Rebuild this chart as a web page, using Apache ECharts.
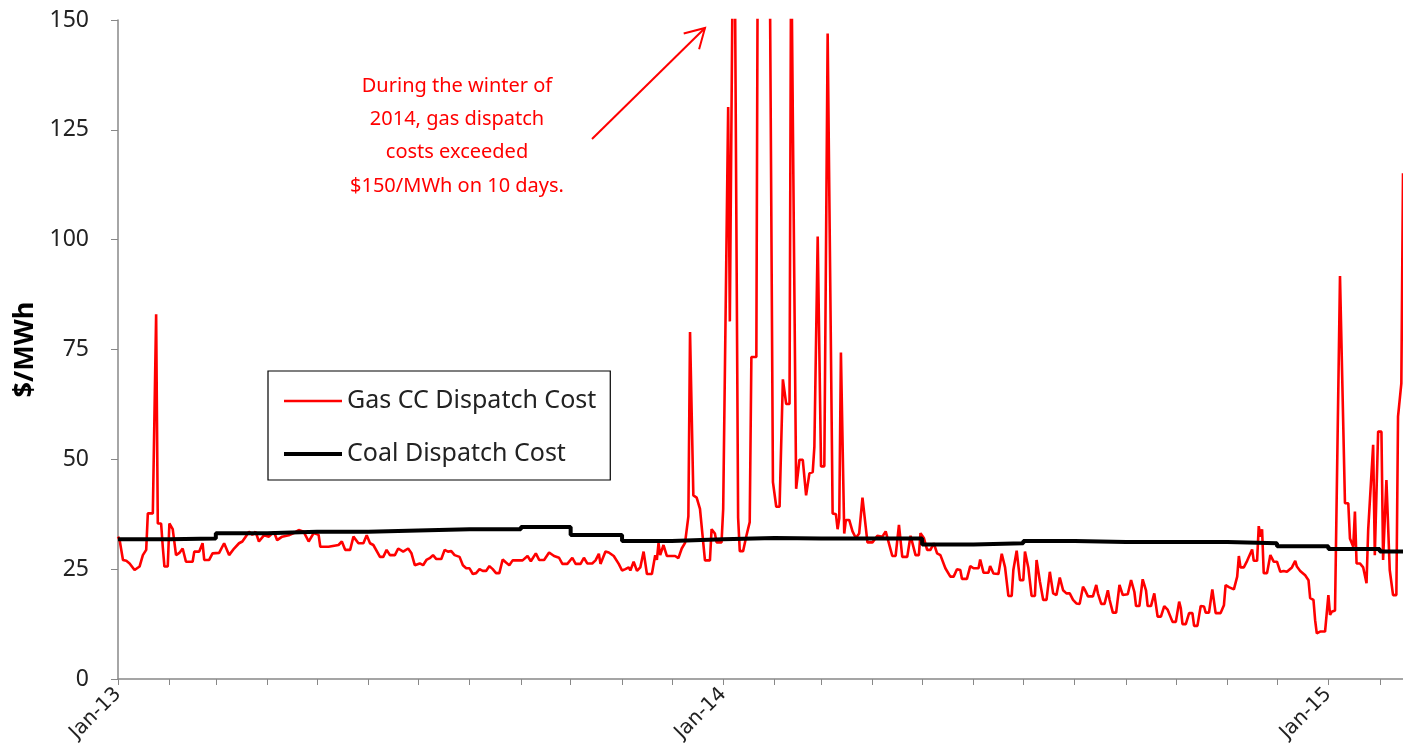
<!DOCTYPE html>
<html>
<head>
<meta charset="utf-8">
<script src="https://cdn.jsdelivr.net/npm/echarts@6/dist/echarts.min.js"></script>
<style>
html,body{margin:0;padding:0;background:#fff;}
#chart{width:1403px;height:754px;}
</style>
</head>
<body>
<div id="chart"></div>
<script>
// Axis range: daily categories from start to end date
var startDate = '2013-01-01';
var endDate = '2015-02-15';
var yTicks = [0, 25, 50, 75, 100, 125, 150];

// Gas CC dispatch cost: day number since 2013-01-01 and $/MWh
var gasDays = [0,1,3,5,7,10,13,15,17,18,21,23,24,26,27,28,30,31,33,35,37,39,41,45,46,49,51,52,55,57,61,64,67,70,73,75,77,79,81,83,85,88,91,94,96,99,103,106,109,112,115,118,121,122,127,133,135,137,140,142,145,148,150,152,154,158,160,162,164,167,169,172,175,177,179,182,184,186,188,190,192,195,197,199,201,203,206,208,210,212,214,216,218,220,222,224,226,228,230,232,234,236,238,241,244,247,249,252,254,257,260,263,266,268,271,274,276,279,281,283,286,288,290,291,294,296,299,302,304,306,308,309,311,313,315,317,319,322,324,325,326,327,329,331,336,338,340,342,344,345,347,349,351,354,357,358,360,361,364,365,366,368,369,370,371,372,374,375,377,379,381,382,385,386,388,390,392,393,395,397,399,401,403,405,406,409,411,413,415,417,419,420,422,424,426,428,431,433,434,435,436,438,439,441,443,445,447,449,452,455,458,461,463,467,469,471,473,476,478,479,481,483,484,486,488,490,492,494,496,499,502,504,506,508,509,512,514,516,519,520,522,525,526,528,531,533,535,537,539,540,542,544,546,547,549,551,553,554,556,558,560,562,564,566,568,570,572,574,576,578,580,582,583,585,588,590,591,593,595,597,598,600,602,604,606,609,611,613,614,616,618,620,621,623,625,627,629,631,633,636,638,640,641,642,644,646,648,649,651,653,655,656,658,660,662,665,667,668,670,673,675,676,677,679,681,682,684,685,687,688,689,690,691,693,695,697,699,701,702,703,705,708,710,711,713,716,718,719,721,722,723,725,728,730,731,732,734,737,740,742,743,745,746,747,749,751,753,754,755,757,758,760,762,763,765,767,769,771,772,774,775];
var gasValues = [32.4,31.6,27.1,26.9,26.3,24.8,25.6,28.2,29.4,37.7,37.7,83.0,35.4,35.4,30.1,25.6,25.6,35.4,34.1,28.2,28.7,29.7,26.7,26.7,29.0,29.0,30.9,27.1,27.1,28.6,28.7,30.9,28.2,29.7,30.9,31.3,32.4,33.5,32.8,33.5,31.3,32.7,32.4,33.5,31.6,32.4,32.7,33.2,33.9,33.5,31.3,33.2,32.8,30.1,30.1,30.5,31.3,29.4,29.4,32.4,30.9,30.9,32.7,30.9,30.5,27.8,27.8,29.4,28.2,28.2,29.7,29.0,29.7,28.6,25.9,26.3,25.9,27.1,27.5,28.2,27.3,27.3,29.4,29.0,29.1,28.2,27.8,25.9,25.2,25.2,23.9,24.1,25.0,24.6,24.6,25.7,25.0,24.1,24.1,27.2,26.5,25.9,27.0,27.0,27.0,28.0,26.8,28.6,27.1,27.1,28.8,28.0,27.6,26.2,26.2,27.6,26.2,26.2,27.6,26.3,26.3,27.0,28.5,26.2,29.0,28.8,28.0,26.2,24.7,25.0,25.4,24.7,26.7,24.6,25.4,29.0,23.9,23.9,28.2,27.1,30.9,28.2,30.5,28.0,28.0,27.5,29.7,31.0,37.0,79.0,41.8,41.3,38.7,27.0,27.0,34.1,33.1,31.1,31.1,38.7,38.7,130.2,81.4,81.4,175,165,36.7,29.1,29.1,32.6,35.7,73.3,73.3,185,220,240,200,170,44.8,39.2,39.2,68.2,62.6,62.6,170,43.3,49.9,49.9,41.8,46.8,47.1,52.9,100.7,48.4,48.4,146.9,37.7,37.5,34.1,36.6,74.3,33.1,36.2,36.2,33.6,32.1,33.1,41.3,31.1,31.1,32.6,32.4,33.6,28.0,28.0,35.1,27.8,27.8,32.6,32.8,28.2,28.2,33.2,32.1,29.4,29.4,30.9,28.6,28.2,25.2,23.3,23.3,25.0,24.8,22.8,22.8,25.7,25.2,25.2,27.2,24.2,24.2,25.7,24.0,23.9,28.5,25.4,18.9,18.9,24.8,29.2,22.5,22.5,29.0,25.4,18.9,18.9,27.1,22.2,18.0,18.0,24.4,19.5,19.1,23.1,20.2,19.5,19.5,18.0,17.2,17.1,21.0,20.4,18.8,18.8,21.4,19.5,17.1,17.1,20.2,18.1,15.1,15.1,21.4,19.1,19.3,22.5,19.8,16.6,16.6,22.7,20.2,16.6,16.6,19.5,14.2,14.2,16.6,15.8,13.0,13.0,17.6,16.1,12.5,12.5,15.0,15.0,12.1,12.1,16.6,16.5,15.1,15.1,20.4,15.0,15.0,16.8,21.4,20.9,20.4,23.3,28.0,25.4,25.4,26.9,27.0,29.5,26.9,26.9,34.8,32.4,34.1,24.1,24.1,28.2,26.7,26.7,24.4,24.0,24.6,24.4,25.4,26.9,25.6,24.6,23.6,22.5,18.4,18.0,13.4,10.4,10.8,10.8,19.1,14.6,15.3,15.6,91.7,40.0,40.0,32.0,30.1,38.1,26.3,26.3,25.4,21.8,33.9,33.9,53.3,28.2,56.3,56.3,27.1,45.3,24.8,19.1,19.1,59.7,67.3,115.1];

// Coal dispatch cost: monthly values (month start dates)
var coalDates = ['2013-01-01','2013-02-01','2013-03-01','2013-04-01','2013-05-01','2013-06-01','2013-07-01','2013-08-01','2013-09-01','2013-10-01','2013-11-01','2013-12-01','2014-01-01','2014-02-01','2014-03-01','2014-04-01','2014-05-01','2014-06-01','2014-07-01','2014-08-01','2014-09-01','2014-10-01','2014-11-01','2014-12-01','2015-01-01','2015-02-01','2015-02-15'];
var coalValues = [31.8,32.0,33.2,33.5,33.5,33.8,34.1,34.1,34.6,32.8,31.4,31.8,32.1,32.0,32.0,32.0,30.6,30.9,31.4,31.2,31.2,31.2,30.9,30.2,29.6,29.0,29.0];

var seriesNames = ['Gas CC Dispatch Cost', 'Coal Dispatch Cost'];
var annotationLines = ['During the winter of', '2014, gas dispatch', 'costs exceeded', '$150/MWh on 10 days.'];
var monthAbbr = ['Jan','Feb','Mar','Apr','May','Jun','Jul','Aug','Sep','Oct','Nov','Dec'];

// build daily category list
function pad(n){return (n<10?'0':'')+n;}
var cats = [];
(function(){
  var s = Date.UTC(+startDate.slice(0,4), +startDate.slice(5,7)-1, +startDate.slice(8,10));
  var e = Date.UTC(+endDate.slice(0,4), +endDate.slice(5,7)-1, +endDate.slice(8,10));
  for (var t = s; t <= e; t += 86400000) {
    var d = new Date(t);
    cats.push(d.getUTCFullYear()+'-'+pad(d.getUTCMonth()+1)+'-'+pad(d.getUTCDate()));
  }
})();

var gasData = gasDays.map(function(d,i){ return [cats[d], gasValues[i]]; });
var coalData = coalDates.map(function(d,i){ return [d, coalValues[i]]; });

var chart = echarts.init(document.getElementById('chart'), null, {renderer:'canvas'});

var red = '#FF0000';
var graphics = annotationLines.map(function(t,i){
  return {type:'text', x:457, y:86+i*33.3, style:{text:t, fill:red, font:'20px "Noto Sans"', align:'center', verticalAlign:'middle'}, z:100};
});
graphics.push({type:'line', shape:{x1:592,y1:139,x2:705,y2:28}, style:{stroke:red, lineWidth:2}, z:100});
graphics.push({type:'polyline', shape:{points:[[683.7,33.5],[705,28],[699.1,49.2]]}, style:{stroke:red, lineWidth:2, fill:null}, z:100});

var option = {
  animation:false,
  backgroundColor:'#fff',
  grid:{left:118, right:0, top:20, bottom:75, containLabel:false},
  legend:{
    orient:'vertical', left:268, top:371,
    data:[
      {name:seriesNames[0], lineStyle:{width:2.5, color:red}},
      {name:seriesNames[1], lineStyle:{width:4, color:'#000'}}
    ],
    itemStyle:{opacity:0},
    borderColor:'#000', borderWidth:1.2,
    padding:[16, 14, 12, 14],
    itemWidth:58, itemHeight:14, itemGap:25,
    textStyle:{fontFamily:'Noto Sans', fontSize:25, lineHeight:28, color:'#222'}
  },
  xAxis:{
    type:'category', data:cats, boundaryGap:false,
    axisLine:{lineStyle:{color:'#888', width:1.5}},
    axisTick:{show:true, length:6, interval:function(i,v){return v.slice(8)==='01';}, lineStyle:{color:'#888', width:1}},
    axisLabel:{interval:function(i,v){return v.slice(5)==='01-01';}, rotate:45, margin:12, fontFamily:'DejaVu Sans', fontSize:20, color:'#222',
      formatter:function(v){return monthAbbr[+v.slice(5,7)-1]+'-'+v.slice(2,4);}},
    splitLine:{show:false}
  },
  yAxis:{
    type:'value', min:yTicks[0], max:yTicks[yTicks.length-1], interval:25,
    name:'$/MWh', nameLocation:'middle', nameGap:72, nameRotate:90,
    nameTextStyle:{fontFamily:'Noto Sans', fontWeight:'bold', fontSize:27, color:'#000'},
    axisLine:{show:true, lineStyle:{color:'#888', width:1.5}},
    axisTick:{show:true, length:7, lineStyle:{color:'#888'}},
    axisLabel:{fontFamily:'Noto Sans', fontSize:23, color:'#222', margin:29},
    splitLine:{show:false}
  },
  series:[
    {name:seriesNames[0], type:'line', data:gasData, symbol:'none', clip:true,
     lineStyle:{color:red, width:2.6}, itemStyle:{color:red}, z:2},
    {name:seriesNames[1], type:'line', data:coalData, symbol:'none', step:'end',
     lineStyle:{color:'#000', width:4}, itemStyle:{color:'#000'}, z:3}
  ],
  graphic:graphics
};
chart.setOption(option);
</script>
</body>
</html>
